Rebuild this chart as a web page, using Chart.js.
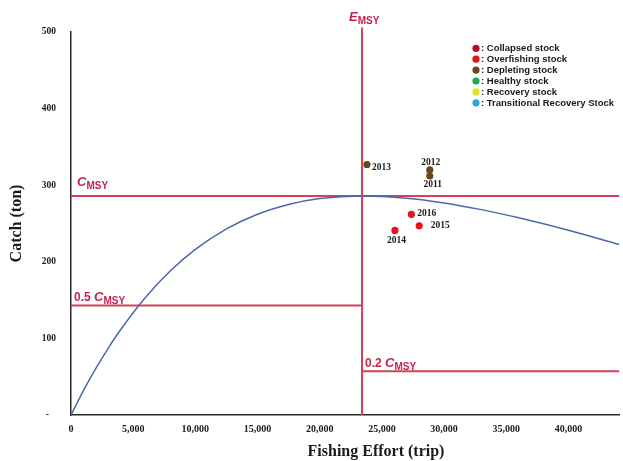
<!DOCTYPE html>
<html>
<head>
<meta charset="utf-8">
<script src="https://cdn.jsdelivr.net/npm/chart.js@4.4.1/dist/chart.umd.min.js"></script>
<style>
  html, body { margin: 0; padding: 0; background: #fff; }
  #wrap { width: 623px; height: 461px; }
</style>
</head>
<body>
<div id="wrap"><canvas id="c" width="623" height="461"></canvas></div>
<script>
// ---------- DATA ----------
const EMSY = 23400;          // trips
const CMSY = 286;            // tons
const HALF_CMSY = 143;
const FIFTH_CMSY = 57;
const X_MAX = 44100;
const EMSY_LINE_TOP = 506;

// surplus-production curve
const curveEffort = [0, 1000, 2000, 3000, 4000, 6000, 8000, 10000, 12500, 15000, 17500, 20000, 23400, 27000, 30000, 33000, 36000, 40000, 44100];
const curveCatch  = [0, 31.7, 60.8, 87.4, 111.6, 153.8, 188.3, 216.1, 242.9, 262.1, 274.9, 282.5, 286, 283.1, 276.9, 268.1, 257.4, 241.2, 222.6];

// observed years
const years      = ['2011', '2012', '2013', '2014', '2015', '2016'];
const obsEffort  = [28850, 28850, 23800, 26050, 28000, 27370];
const obsCatch   = [312, 320, 327, 241, 247, 262];
const obsStatus  = ['Depleting', 'Depleting', 'Depleting', 'Overfishing', 'Overfishing', 'Overfishing'];

// legend
const legendLabels = ['Collapsed stock', 'Overfishing stock', 'Depleting stock', 'Healthy stock', 'Recovery stock', 'Transitional Recovery Stock'];
const legendKeys   = ['Collapsed', 'Overfishing', 'Depleting', 'Healthy', 'Recovery', 'Transitional'];

// axis ticks
const xTickValues = [0, 5000, 10000, 15000, 20000, 25000, 30000, 35000, 40000];
const yTickValues = [0, 100, 200, 300, 400, 500];

// ---------- STYLES ----------
const statusColor = {
  Collapsed: '#b3101f',
  Overfishing: '#e3131a',
  Depleting: '#6a4620',
  Healthy: '#1fa84b',
  Recovery: '#dde52a',
  Transitional: '#2aa8d8'
};
const RED_LINE = '#d6405a';
const RED_TEXT = '#c61f4b';
const BLUE_CURVE = '#4a69a8';
const SERIF = '"Liberation Serif", "Times New Roman", serif';
const SANS = '"Liberation Sans", Arial, sans-serif';

// label offsets (pixels) relative to each point
const yearLabelPos = {
  '2011': { dx: 3, dy: 9, align: 'center' },
  '2012': { dx: 1, dy: -7, align: 'center' },
  '2013': { dx: 5, dy: 3.5, align: 'left' },
  '2014': { dx: 1.5, dy: 10, align: 'center' },
  '2015': { dx: 11.5, dy: 0, align: 'left' },
  '2016': { dx: 6, dy: -0.5, align: 'left' }
};

const curvePts = curveEffort.map((e, i) => ({ x: e, y: curveCatch[i] }));
const obsPts = obsEffort.map((e, i) => ({ x: e, y: obsCatch[i] }));

function drawMsyLabel(ctx, prefix, x, baseline) {
  ctx.save();
  ctx.fillStyle = RED_TEXT;
  ctx.textAlign = 'left';
  ctx.textBaseline = 'alphabetic';
  let cx = x;
  if (prefix) {
    ctx.font = 'bold 12px ' + SANS;
    ctx.fillText(prefix + ' ', cx, baseline);
    cx += ctx.measureText(prefix + ' ').width;
  }
  ctx.font = 'italic bold 13px ' + SANS;
  ctx.fillText('C', cx, baseline);
  cx += ctx.measureText('C').width;
  ctx.font = 'bold 10px ' + SANS;
  ctx.fillText('MSY', cx, baseline + 3);
  ctx.restore();
}
function drawEmsyLabel(ctx, x, baseline) {
  ctx.save();
  ctx.fillStyle = RED_TEXT;
  ctx.textAlign = 'left';
  ctx.textBaseline = 'alphabetic';
  ctx.font = 'italic bold 13px ' + SANS;
  ctx.fillText('E', x, baseline);
  const w = ctx.measureText('E').width;
  ctx.font = 'bold 10px ' + SANS;
  ctx.fillText('MSY', x + w, baseline + 3);
  ctx.restore();
}

const overlay = {
  id: 'overlay',
  afterDatasetsDraw(chart) {
    const { ctx, chartArea, scales } = chart;
    const xs = scales.x, ys = scales.y;
    const xE = xs.getPixelForValue(EMSY);

    // threshold labels
    drawMsyLabel(ctx, '', chartArea.left + 6, ys.getPixelForValue(CMSY) - 10);
    drawMsyLabel(ctx, '0.5', chartArea.left + 3, ys.getPixelForValue(HALF_CMSY) - 4);
    drawMsyLabel(ctx, '0.2', xE + 3, ys.getPixelForValue(FIFTH_CMSY) - 4);
    drawEmsyLabel(ctx, xE - 13, chartArea.top - 11);

    // year labels
    const meta = chart.getDatasetMeta(0);
    ctx.save();
    ctx.fillStyle = '#1a1a1a';
    ctx.font = 'bold 9.5px ' + SERIF;
    ctx.textBaseline = 'middle';
    meta.data.forEach((pt, i) => {
      const p = yearLabelPos[years[i]];
      ctx.textAlign = p.align;
      ctx.fillText(years[i], pt.x + p.dx, pt.y + p.dy);
    });
    ctx.restore();

    // legend
    ctx.save();
    const lx = 476, ly0 = 48.3, step = 10.9;
    legendLabels.forEach((lab, i) => {
      const y = ly0 + i * step;
      ctx.beginPath();
      ctx.arc(lx, y, 3.6, 0, Math.PI * 2);
      ctx.fillStyle = statusColor[legendKeys[i]];
      ctx.fill();
      ctx.fillStyle = '#1a1a1a';
      ctx.font = 'bold 9.5px ' + SANS;
      ctx.textAlign = 'left';
      ctx.textBaseline = 'middle';
      ctx.fillText(': ' + lab, lx + 5, y + 0.5);
    });
    ctx.restore();

    // axis titles
    ctx.save();
    ctx.fillStyle = '#1a1a1a';
    ctx.font = 'bold 16px ' + SERIF;
    ctx.textAlign = 'center';
    ctx.textBaseline = 'middle';
    ctx.fillText('Fishing Effort (trip)', 376, 452);
    ctx.translate(17, (chartArea.top + chartArea.bottom) / 2);
    ctx.rotate(-Math.PI / 2);
    ctx.fillText('Catch (ton)', 0, 0);
    ctx.restore();
  }
};

new Chart(document.getElementById('c'), {
  type: 'scatter',
  data: {
    datasets: [
      {
        label: 'Observed',
        data: obsPts,
        pointRadius: 3.6,
        pointHoverRadius: 3.6,
        pointBorderWidth: 0,
        pointBackgroundColor: obsStatus.map(s => statusColor[s]),
        showLine: false
      },
      {
        label: 'Production curve',
        data: curvePts,
        showLine: true,
        borderColor: BLUE_CURVE,
        borderWidth: 1.5,
        pointRadius: 0,
        cubicInterpolationMode: 'monotone',
        fill: false
      },
      {
        label: 'E_MSY',
        data: [{ x: EMSY, y: 0 }, { x: EMSY, y: EMSY_LINE_TOP }],
        showLine: true, borderColor: RED_LINE, borderWidth: 2, pointRadius: 0, clip: false
      },
      {
        label: 'C_MSY',
        data: [{ x: 0, y: CMSY }, { x: X_MAX, y: CMSY }],
        showLine: true, borderColor: RED_LINE, borderWidth: 2, pointRadius: 0
      },
      {
        label: '0.5 C_MSY',
        data: [{ x: 0, y: HALF_CMSY }, { x: EMSY, y: HALF_CMSY }],
        showLine: true, borderColor: RED_LINE, borderWidth: 2, pointRadius: 0
      },
      {
        label: '0.2 C_MSY',
        data: [{ x: EMSY, y: FIFTH_CMSY }, { x: X_MAX, y: FIFTH_CMSY }],
        showLine: true, borderColor: RED_LINE, borderWidth: 2, pointRadius: 0
      }
    ]
  },
  options: {
    responsive: false,
    devicePixelRatio: 1,
    animation: false,
    layout: { padding: { left: 0, right: 3, top: 32, bottom: 0 } },
    plugins: { legend: { display: false }, tooltip: { enabled: false } },
    scales: {
      x: {
        type: 'linear',
        min: 0, max: X_MAX,
        afterFit: s => { s.height = 46; },
        afterBuildTicks: s => { s.ticks = xTickValues.map(v => ({ value: v })); },
        grid: { display: false, drawTicks: false },
        border: { display: true, color: '#2a2a2a', width: 1.5 },
        ticks: {
          padding: 8,
          maxRotation: 0,
          autoSkip: false,
          color: '#1a1a1a',
          font: { family: SERIF, size: 10, weight: 'bold' },
          callback: v => v.toLocaleString('en-US')
        }
      },
      y: {
        type: 'linear',
        min: 0, max: 500,
        afterFit: s => { s.width = 71; },
        afterBuildTicks: s => { s.ticks = yTickValues.map(v => ({ value: v })); },
        grid: { display: false, drawTicks: false },
        border: { display: true, color: '#2a2a2a', width: 1.5 },
        ticks: {
          padding: 15,
          autoSkip: false,
          color: '#1a1a1a',
          font: { family: SERIF, size: 9.5, weight: 'bold' },
          callback: v => (v === 0 ? '-   ' : String(v))
        }
      }
    }
  },
  plugins: [overlay]
});
</script>
</body>
</html>
